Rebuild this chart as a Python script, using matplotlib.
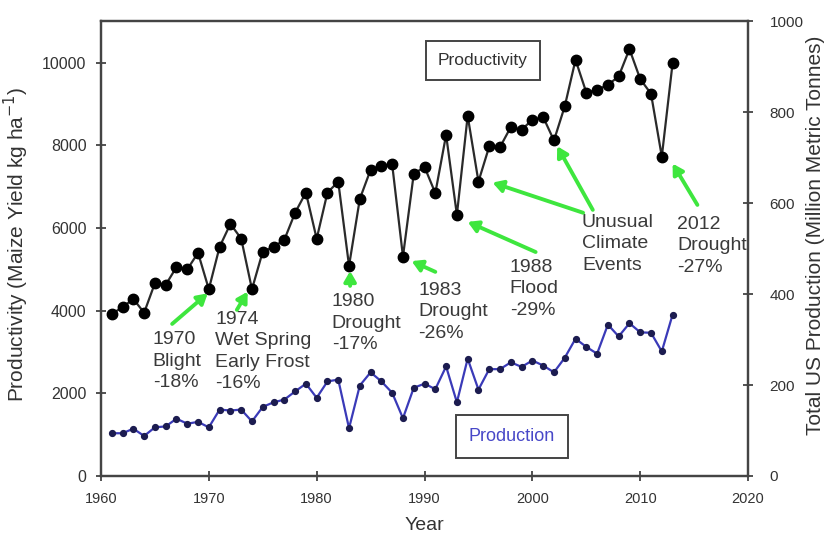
import matplotlib
matplotlib.use("Agg")
import matplotlib.pyplot as plt

plt.rcParams["font.family"] = ["Liberation Sans", "DejaVu Sans"]

# Maize yield (kg/ha) and total US production (million metric tonnes)
years = list(range(1961, 2014))
productivity = [3920, 4085, 4285, 3950, 4665, 4625, 5055, 5000, 5400, 4520,
                5545, 6100, 5745, 4520, 5430, 5545, 5715, 6370, 6860, 5740,
                6860, 7120, 5085, 6705, 7410, 7505, 7540, 5310, 7310, 7478,
                6845, 8255, 6320, 8715, 7125, 7975, 7960, 8445, 8380, 8620,
                8685, 8120, 8945, 10070, 9280, 9345, 9465, 9670, 10330, 9605,
                9250, 7730, 9990]
production = [94, 94, 104, 88, 107, 109, 126, 115, 119, 107,
              146, 144, 146, 120, 152, 162, 168, 186, 203, 172,
              208, 212, 105, 199, 228, 208, 183, 127, 194, 203,
              191, 241, 162, 258, 190, 235, 235, 250, 240, 254,
              243, 228, 260, 302, 284, 269, 333, 307, 336, 316,
              315, 274, 355]

x_ticks = [1960, 1970, 1980, 1990, 2000, 2010, 2020]
left_ticks = [0, 2000, 4000, 6000, 8000, 10000]
right_ticks = [0, 200, 400, 600, 800, 1000]

# (text, text anchor (x, y top), list of arrows (tail, head)) in left-axis data units
events = [
    ("1970\nBlight\n-18%", (1964.8, 3500), [((1966.6, 3680), (1969.9, 4420))]),
    ("1974\nWet Spring\nEarly Frost\n-16%", (1970.6, 4000), [((1972.6, 4020), (1973.6, 4460))]),
    ("1980\nDrought\n-17%", (1981.4, 4420), [((1983.1, 4600), (1983.1, 4960))]),
    ("1983\nDrought\n-26%", (1989.4, 4700), [((1991.0, 4940), (1988.8, 5200))]),
    ("1988\nFlood\n-29%", (1997.9, 5260), [((2000.3, 5420), (1994.0, 6150))]),
    ("Unusual\nClimate\nEvents", (2004.6, 6350), [((2005.6, 6440), (2002.3, 7980)),
                                                  ((2004.7, 6370), (1996.3, 7100))]),
    ("2012\nDrought\n-27%", (2013.4, 6300), [((2015.3, 6560), (2013.0, 7560))]),
]

fig = plt.figure(figsize=(8.29, 5.36), dpi=100)
ax = fig.add_axes([0.1218, 0.112, 0.7806, 0.848])
ax2 = ax.twinx()

ax.plot(years, productivity, color="#2a2a2a", lw=1.6, marker="o", ms=7.5,
        mfc="black", mec="black", zorder=3)
ax2.plot(years, production, color="#3a3ab8", lw=1.6, marker="o", ms=4.2,
         mfc="#1c1c50", mec="#1c1c50", zorder=3)

ax.set_xlim(1960, 2020)
ax.set_ylim(0, 11000)
ax2.set_ylim(0, 1000)
ax.set_xticks(x_ticks)
ax.set_yticks(left_ticks)
ax2.set_yticks(right_ticks)

for a in (ax, ax2):
    a.tick_params(direction="inout", length=7, width=1.2, labelsize=10.5,
                  labelcolor="#333333", color="#333333")
    for s in a.spines.values():
        s.set_linewidth(1.6)
        s.set_color("#444444")
ax.tick_params(axis="x", pad=8)
ax.tick_params(axis="y", pad=7, labelsize=11.5)
ax2.tick_params(axis="y", pad=12, labelsize=11)

ax.set_xlabel("Year", fontsize=14, color="#333333", labelpad=8)
ax.set_ylabel("Productivity (Maize Yield kg ha$^{-1}$)", fontsize=15,
              color="#333333")
ax2.set_ylabel("Total US Production (Million Metric Tonnes)", fontsize=15,
               color="#333333")
ax.yaxis.set_label_coords(-0.108, 0.51)
ax2.yaxis.set_label_coords(1.089, 0.53)

for label, (tx, ty), arrows in events:
    ax.text(tx, ty, label, ha="left", va="top", fontsize=14, color="#3a3a3a",
            linespacing=1.35, zorder=4, clip_on=False)
    for tail, head in arrows:
        ax.annotate("", xy=head, xytext=tail,
                    arrowprops=dict(arrowstyle="-|>,head_length=0.6,head_width=0.35",
                                    color="#3ee63e", lw=2.8, shrinkA=0, shrinkB=0),
                    zorder=4)

ax.text(0.59, 0.914, "Productivity", transform=ax.transAxes, ha="center",
        va="center", fontsize=12.5, color="#333333",
        bbox=dict(boxstyle="square,pad=0.7", fc="white", ec="#444444", lw=1.4))
ax2.text(0.635, 0.087, "Production", transform=ax2.transAxes, ha="center",
         va="center", fontsize=13, color="#4848c8",
         bbox=dict(boxstyle="square,pad=0.7", fc="white", ec="#444444", lw=1.4))

fig.savefig("out.png", dpi=100)
